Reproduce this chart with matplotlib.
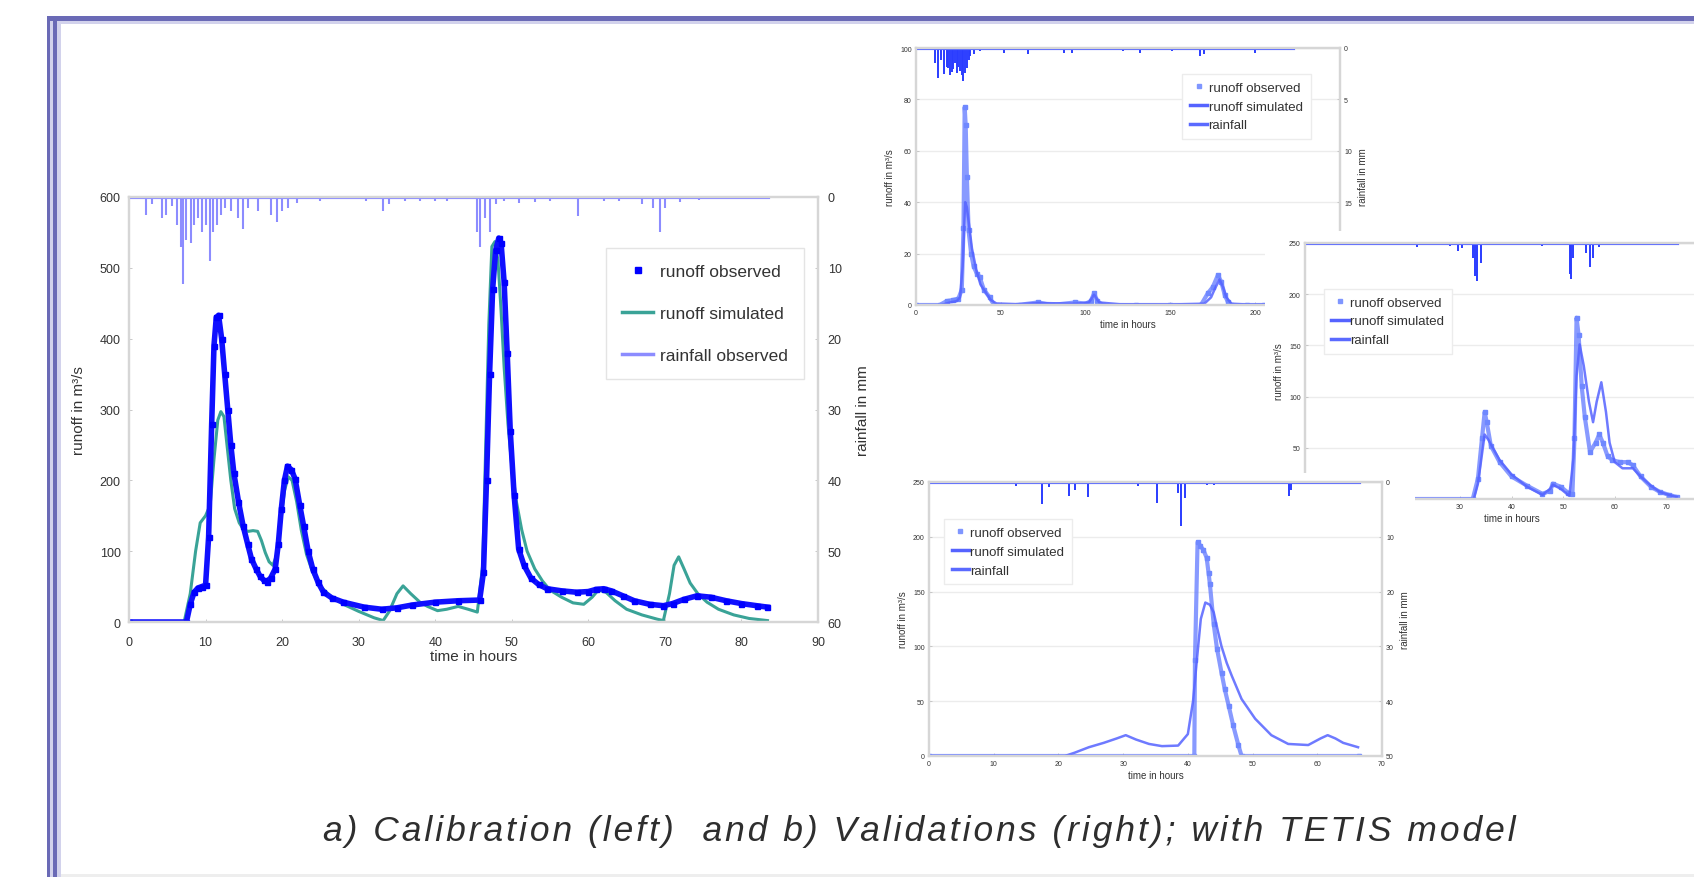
import matplotlib.pyplot as plt
from matplotlib.patches import Rectangle
from matplotlib.lines import Line2D

plt.rcParams['font.family'] = ['Liberation Sans', 'DejaVu Sans']

W, H = 1694, 878

# a) calibration event (hours, m3/s, mm)
cal_obs_t = [0, 7.5, 8, 8.5, 9, 9.5, 10, 10.4, 10.8, 11.1, 11.4, 11.7, 12.1, 12.5, 12.9, 13.3, 13.7,
             14.3, 14.9, 15.5, 16, 16.6, 17.1, 17.6, 18, 18.5, 19.1, 19.5, 19.9, 20.3, 20.7, 21.2,
             21.7, 22.3, 22.8, 23.4, 24, 24.7, 25.4, 26.5, 28, 30.7, 33, 35, 37, 40, 43, 45.8, 46.3,
             46.7, 47.1, 47.5, 47.9, 48.3, 48.6, 49, 49.4, 49.8, 50.3, 50.9, 51.6, 52.5, 53.5, 54.6,
             56.5, 58.5, 60, 61, 62, 63, 64.5, 66, 68, 69.8, 71, 72.5, 74.2, 76, 78, 80, 82, 83.4]
cal_obs_q = [0, 0, 25, 42, 48, 50, 52, 120, 280, 390, 430, 433, 400, 350, 300, 250, 210,
             170, 136, 110, 89, 75, 65, 59, 57, 62, 75, 110, 160, 200, 220, 215,
             202, 165, 136, 100, 75, 56, 42, 34, 28, 21, 18, 20, 24, 28, 30, 31, 70,
             200, 350, 470, 525, 542, 535, 480, 380, 270, 180, 103, 80, 62, 53, 47,
             44, 42, 43, 46, 47, 44, 37, 30, 25, 23, 26, 32, 37, 35, 30, 26, 23, 21]
cal_sim_t = [0, 7.2, 8, 8.7, 9.3, 10, 10.6, 11.1, 11.6, 12, 12.4, 12.8, 13.3, 13.8, 14.4, 15, 15.6,
             16.2, 16.8, 17.3, 17.8, 18.3, 18.8, 19.3, 19.8, 20.3, 20.8, 21.3, 21.9, 22.5, 23.2, 24,
             25, 26.5, 28, 30, 32, 33.2, 34, 35, 35.8, 36.8, 38, 39, 40.3, 41.5, 43, 44.3, 45.5,
             46.2, 46.6, 47, 47.4, 47.8, 48.2, 48.6, 49, 49.5, 50, 50.6, 51.3, 52, 53, 54, 55, 56.5,
             58, 59.4, 60.5, 61.3, 62.3, 63.5, 65, 67, 69, 69.8, 70.6, 71.2, 71.8, 72.5, 73.3, 74.3,
             75.5, 77, 79, 81, 83.4]
cal_sim_q = [0, 0, 40, 100, 140, 150, 165, 230, 285, 297, 290, 250, 200, 160, 140, 130, 128,
             129, 128, 115, 98, 85, 80, 95, 140, 185, 205, 200, 170, 130, 95, 70,
             50, 35, 25, 15, 6, 2, 15, 40, 51, 40, 28, 22, 16, 18, 22, 18, 14,
             80, 250, 420, 530, 537, 510, 440, 360, 280, 220, 170, 130, 100, 75, 58, 45, 35,
             27, 25, 35, 45, 42, 30, 18, 10, 4, 2, 40, 80, 92, 75, 55, 40,
             28, 18, 10, 5, 2]
cal_rain_t = [0, 2.2, 3, 4.3, 4.8, 5.6, 6.3, 6.8, 7.1, 7.5, 8.1, 8.5, 9, 9.5, 10, 10.6, 11, 11.5,
              12, 12.6, 13.3, 14.3, 14.9, 15.5, 16.9, 18.5, 19.3, 20, 20.8, 22, 25, 31, 33.2, 34,
              36, 38, 40, 41.5, 45.5, 45.9, 46.5, 47.2, 48, 49, 51, 53, 55, 58.7, 62, 64, 67,
              68.5, 69.4, 70, 72, 74.5, 83.5]
cal_rain_mm = [0, 2.5, 1, 3, 2.5, 1.2, 4, 7, 12.3, 6, 6.5, 4, 3, 5, 4, 9, 5, 4,
               2.5, 1.5, 2, 3, 4.5, 1.5, 2, 2.5, 3.5, 2, 1.5, 0.8, 0.5, 0.5, 2, 1,
               0.5, 0.6, 0.6, 0.5, 5, 7, 3, 5, 1, 0.6, 0.8, 0.7, 0.6, 2.7, 0.5, 0.5, 1,
               1.5, 5, 1.5, 0.7, 0.4, 0]

# b) validation events
v1_obs_t = [0, 14, 18, 22, 25, 27, 28, 28.7, 29.3, 30, 31, 32.5, 34, 36, 37.5, 40, 43.4, 46, 60, 72,
            80, 94, 100, 103, 105, 107, 110, 130, 150, 168, 172, 175, 178, 180, 182, 184, 186, 195, 205]
v1_obs_q = [0, 0, 1.5, 2, 2.5, 6, 30, 77, 70, 50, 29, 20, 15, 12, 11, 6, 3, 0, 0, 1,
            0, 1, 0.5, 1.5, 4.5, 1.5, 0, 0, 0, 0, 4.5, 7, 11.6, 9, 4, 1, 0, 0, 0]
v1_sim_t = [0, 15, 20, 24, 26, 27.5, 29, 30, 31.5, 33, 35.6, 38, 41.5, 44, 47.4, 60, 72, 94, 102,
            105, 108, 120, 150, 170, 174, 176, 179, 181, 183, 186, 195, 205]
v1_sim_q = [0, 0, 1, 1.5, 3, 15, 40, 38, 30, 22, 13.5, 8, 4.5, 2, 0.6, 0.3, 0.8, 0.5, 1,
            4, 1, 0.3, 0.2, 0.5, 3, 6, 10, 7, 3, 0.5, 0.2, 0.2]
v1_rain_t = [0, 11, 13, 15, 16.5, 18, 19, 20, 21, 22, 23, 24, 25, 26, 27, 28, 29, 30, 31, 32, 34,
             37.5, 52, 66, 87, 92, 122, 132, 151, 167.5, 170, 200, 222]
v1_rain_mm = [0, 1.5, 2.9, 1.2, 2.5, 1.8, 1.9, 2.6, 2.3, 2, 1.5, 2.4, 1.8, 2.2, 2.6, 3.2, 2.4, 1.9,
              1.2, 0.8, 0.6, 0.3, 0.5, 0.6, 0.5, 0.5, 0.3, 0.5, 0.3, 0.8, 0.6, 0.5, 0]

v2_obs_t = [0, 32.5, 33.5, 34.3, 34.8, 35.2, 36, 37.7, 40, 43, 46, 47.5, 48, 49.5, 51, 51.8, 52.2,
            52.6, 53, 53.6, 54.2, 55.2, 56.3, 57, 57.7, 58.6, 59.5, 61, 62.5, 63.5, 65, 67, 68.7,
            70.5, 72]
v2_obs_q = [0, 0, 20, 60, 85, 75, 52, 36, 22, 13, 5, 8, 15, 12, 6, 5, 60,
            177, 160, 110, 80, 46, 55, 63, 55, 42, 38, 36, 36, 33, 22, 12, 7,
            4, 2]
v2_sim_t = [0, 32.7, 33.5, 34.8, 35.5, 37.7, 40, 43, 46, 47.5, 48, 49.5, 51.2, 52, 52.6, 53.2, 54,
            55, 55.8, 56.5, 57.4, 58.3, 59, 60, 61.5, 63.5, 65, 67, 68.7, 70.5, 72]
v2_sim_q = [0, 0, 15, 63, 58, 38, 24, 12, 4, 10, 14, 10, 3, 40, 120, 151, 130,
            95, 75, 95, 114, 85, 55, 36, 30, 30, 22, 13, 7, 4, 2]
v2_rain_t = [0, 21.6, 28, 29.7, 30.5, 32.5, 33, 33.4, 34, 46, 51.3, 51.6, 52, 54.5, 55.3, 55.8, 57,
             62, 72]
v2_rain_mm = [0, 0.8, 0.5, 1.5, 1, 3, 6.5, 7.5, 4, 0.5, 6, 7, 3, 2, 4.7, 3, 0.8, 0.4, 0]

v3_obs_t = [0, 41, 41.1, 41.5, 41.9, 42.4, 42.9, 43.2, 43.4, 44, 44.5, 45.2, 45.7, 46.3, 47, 47.8,
            48.3, 66.5]
v3_obs_q = [0, 0, 88, 195, 192, 188, 181, 167, 157, 120, 98, 76, 61, 46, 28, 10, 0, 0]
v3_sim_t = [0, 21, 22.5, 24.7, 27, 29, 30.4, 32, 34, 36, 38.5, 40, 40.8, 41.4, 42, 42.7, 43.4, 44,
            44.6, 45.2, 46, 46.8, 48.3, 50.4, 52.9, 55.5, 58.6, 60.5, 61.6, 62.8, 64, 66.3]
v3_sim_q = [0, 0, 3, 8, 12, 16, 19, 15, 11, 9, 9.5, 20, 50, 88, 125, 140, 138, 131,
            115, 100, 85, 73, 52, 34, 19, 11, 10, 16, 19, 16, 12, 8]
v3_rain_t = [0, 13.4, 17.5, 18.5, 21.6, 22.5, 24.5, 32.3, 35.2, 38.5, 39, 39.5, 43, 44, 55.7, 56,
             66.5]
v3_rain_mm = [0, 0.8, 4, 1, 2.5, 1.5, 2.8, 0.8, 3.8, 2, 8, 3, 0.6, 0.6, 2.5, 1.5, 0]

caption = 'a) Calibration (left)  and b) Validations (right); with TETIS model'


fig = plt.figure(figsize=(W / 100, H / 100), dpi=100)


def px_axes(l, t, r, b, z):
    ax = fig.add_axes([l / W, 1 - b / H, (r - l) / W, (b - t) / H])
    ax.set_zorder(z)
    return ax


def px_rect(l, t, r, b, color, z):
    fig.add_artist(Rectangle((l / W, 1 - b / H), (r - l) / W, (b - t) / H,
                             transform=fig.transFigure, facecolor=color,
                             edgecolor='none', zorder=z))


def style(ax, size, pad=3):
    for s in ax.spines.values():
        s.set_color('#d6d6d6')
        s.set_linewidth(1.6)
    ax.tick_params(direction='in', length=2, width=0.6, color='#c0c0c0',
                   labelsize=size, labelcolor='#333333', pad=pad)


# slide frame
px_rect(47, 17, W, 22, '#6a6ab6', 0)
px_rect(53, 22, W, 25, '#d2d2ec', 0)
px_rect(47, 17, 50, H, '#6a6ab6', 0)
px_rect(50, 22, 53, H, '#d2d2ec', 0)
px_rect(53, 22, 57, H, '#6a6ab6', 0)
px_rect(57, 25, 61, H, '#d2d2ec', 0)
px_rect(61, 875, W, H, '#eeeeee', 0)

# ---------- a) calibration
ax = px_axes(129, 198, 818, 623, 1)
style(ax, 9, pad=6)
ax.tick_params(axis='x', pad=10)
ax.plot(cal_sim_t, cal_sim_q, color='#3aa397', lw=2.2)
ax.plot(cal_obs_t, cal_obs_q, color='#1010ff', lw=4)
ax.plot(cal_obs_t, cal_obs_q, 's', ms=3.6, color='#0000ff')
ax.set_xlim(0, 90)
ax.set_ylim(0, 600)
ax.set_xticks(range(0, 91, 10))
ax.set_yticks(range(0, 601, 100))
ax.set_xlabel('time in hours', fontsize=11, color='#333333', labelpad=1)
ax.set_ylabel('runoff in m³/s', fontsize=11, color='#333333', labelpad=10)

ax2 = ax.twinx()
ax2.set_zorder(1.1)
style(ax2, 9, pad=7)
ax2.vlines(cal_rain_t, 0, cal_rain_mm, color='#8c8cff', lw=1.5)
ax2.plot([cal_rain_t[0], cal_rain_t[-1]], [0, 0], color='#8c8cff', lw=3)
ax2.set_ylim(60, 0)
ax2.set_yticks(range(0, 61, 10))
ax2.set_ylabel('rainfall in mm', fontsize=11, color='#333333', labelpad=10)

hd = [Line2D([], [], ls='none', marker='s', ms=5, color='#0000ff'),
      Line2D([], [], color='#3aa397', lw=2.5),
      Line2D([], [], color='#8c8cff', lw=2.5)]
leg = ax2.legend(hd, ['runoff observed', 'runoff simulated', 'rainfall observed'],
                 loc='upper right', bbox_to_anchor=(0.992, 0.9), fontsize=12.5,
                 labelspacing=1.55, borderpad=0.9, handlelength=1.8, handletextpad=0.4,
                 fancybox=False, edgecolor='#e4e4e4', framealpha=1)
for t in leg.get_texts():
    t.set_color('#333333')


# ---------- b) validations
def small_chart(box, z, xmax, xticks, ymax, ystep, rmax, rstep,
                obs_t, obs_q, sim_t, sim_q, rain_t, rain_mm, leg_anchor, leg_loc,
                right_labels=True):
    a = px_axes(box[0], box[1], box[2], box[3], z)
    style(a, 5)
    a.grid(axis='y', color='#ececec', lw=1)
    a.plot(obs_t, obs_q, color='#6078ff', lw=3, alpha=0.75)
    a.plot(obs_t, obs_q, 's', ms=2.2, color='#6f88ff')
    a.plot(sim_t, sim_q, color='#5563ff', lw=1.8, alpha=0.85)
    a.set_xlim(0, xmax)
    a.set_ylim(0, ymax)
    a.set_xticks(xticks)
    a.set_yticks(range(0, ymax + 1, ystep))
    a.set_xlabel('time in hours', fontsize=7, color='#333333', labelpad=2)
    a.set_ylabel('runoff in m³/s', fontsize=7, color='#333333', labelpad=4)
    b = a.twinx()
    b.set_zorder(z + 0.1)
    style(b, 5)
    b.vlines(rain_t, 0, rain_mm, color='#2a3cff', lw=1.4)
    b.plot([rain_t[0], rain_t[-1]], [0, 0], color='#5a6aff', lw=3)
    b.set_ylim(rmax, 0)
    b.set_yticks(range(0, rmax + 1, rstep))
    if right_labels:
        b.set_ylabel('rainfall in mm', fontsize=7, color='#333333', labelpad=4)
    else:
        b.tick_params(labelright=False)
    hs = [Line2D([], [], ls='none', marker='s', ms=3.5, color='#7f96ff'),
          Line2D([], [], color='#5563ff', lw=2.5),
          Line2D([], [], color='#5a6aff', lw=2.5)]
    lg = b.legend(hs, ['runoff observed', 'runoff simulated', 'rainfall'],
                  loc=leg_loc, bbox_to_anchor=leg_anchor, fontsize=9.5,
                  labelspacing=0.5, borderpad=0.6, handlelength=1.3, handletextpad=0.1,
                  fancybox=False, edgecolor='#ececec', framealpha=1)
    for t in lg.get_texts():
        t.set_color('#333333')


small_chart((916, 49, 1340, 306), 2, 250, range(0, 251, 50), 100, 20, 25, 5,
            v1_obs_t, v1_obs_q, v1_sim_t, v1_sim_q, v1_rain_t, v1_rain_mm,
            (0.946, 0.926), 'upper right')

px_rect(1265, 232, W, 545, 'white', 3)
small_chart((1305, 244, 1718, 500), 3.5, 80, range(0, 71, 10), 250, 50, 50, 10,
            v2_obs_t, v2_obs_q, v2_sim_t, v2_sim_q, v2_rain_t, v2_rain_mm,
            (0.029, 0.848), 'upper left', right_labels=False)

px_rect(885, 474, 1415, 795, 'white', 5)
small_chart((929, 483, 1382, 757), 5.5, 70, range(0, 71, 10), 250, 50, 50, 10,
            v3_obs_t, v3_obs_q, v3_sim_t, v3_sim_q, v3_rain_t, v3_rain_mm,
            (0.018, 0.89), 'upper left')

# caption is letter-spaced in the original slide
fig.text(919 / W, 1 - 832 / H, '\u200a'.join(caption), ha='center', va='center',
         fontsize=25.5, style='italic', color='#2e2e2e', zorder=8)

plt.savefig('out.png', dpi=100)
